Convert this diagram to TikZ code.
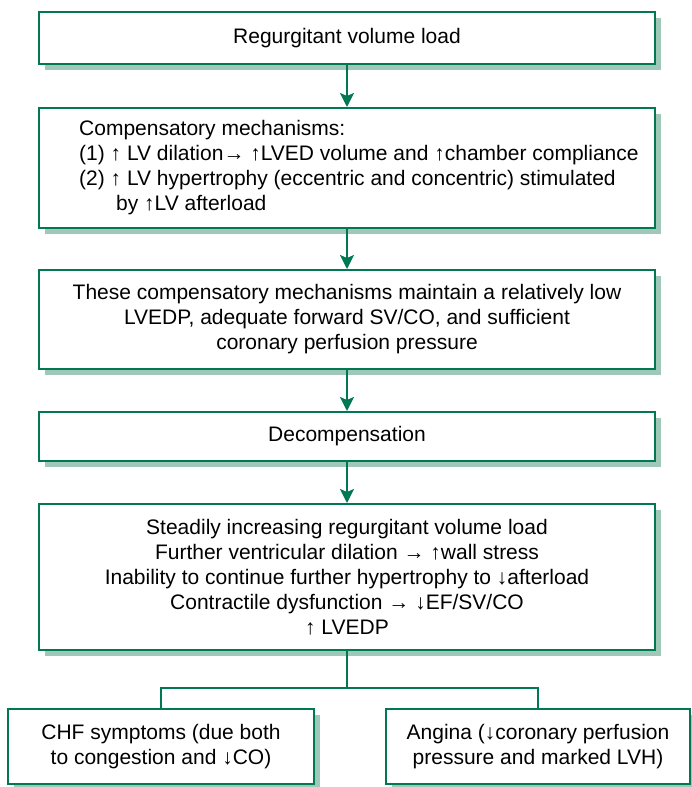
\documentclass[tikz,border=0pt]{standalone}
\usepackage{fontspec}
\setmainfont{Liberation Sans}
\usetikzlibrary{arrows.meta,shadows}
\definecolor{boxgreen}{RGB}{0,120,84}
\definecolor{shadegreen}{RGB}{160,200,184}

\begin{document}
\begin{tikzpicture}[x=1pt,y=-1pt,
  every node/.style={font=\fontsize{21}{25}\selectfont},
  box/.style={draw=boxgreen, line width=2pt, fill=white, minimum width=616pt,
    inner sep=0pt, align=center,
    drop shadow={shadow xshift=6pt, shadow yshift=-6pt, fill=shadegreen, opacity=1}},
  conn/.style={draw=boxgreen, line width=2pt},
  flow/.style={conn, -{Stealth[length=14pt,width=14pt,inset=3pt]}}]
  \useasboundingbox (0,0) rectangle (691,787);
  \def\cx{347}   % centre line of the column
  % main column
  \node[box, minimum height=52pt] (load) at (\cx,38) {Regurgitant volume load};
  \node[box, minimum height=120pt] (comp) at (\cx,168) {};
  \node[anchor=west, align=left, inner sep=0pt] (comptext) at ([xshift=41pt]comp.west)
    {Compensatory mechanisms:\\
     (1) ↑ LV dilation→ ↑LVED volume and ↑chamber compliance\\
     (2) ↑ LV hypertrophy (eccentric and concentric) stimulated\\
     \hspace*{37pt}by ↑LV afterload};
  \node[box, minimum height=99pt] (keep) at (\cx,319.5)
    {These compensatory mechanisms maintain a relatively low\\
     LVEDP, adequate forward SV/CO, and sufficient\\
     coronary perfusion pressure};
  \node[box, minimum height=49pt] (decomp) at (\cx,436.5) {Decompensation};
  \node[box, minimum height=146pt] (fail) at (\cx,577)
    {Steadily increasing regurgitant volume load\\
     Further ventricular dilation → ↑wall stress\\
     Inability to continue further hypertrophy to ↓afterload\\
     Contractile dysfunction → ↓EF/SV/CO\\
     ↑ LVEDP};
  % outcomes
  \node[box, minimum width=306pt, minimum height=75pt] (chf) at (161,746.5)
    {CHF symptoms (due both\\ to congestion and ↓CO)};
  \node[box, minimum width=304pt, minimum height=75pt] (angina) at (538,746.5)
    {Angina (↓coronary perfusion\\ pressure and marked LVH)};
  \coordinate (split) at (\cx,688);
  % connectors
  \draw[flow] (load) -- (comp);
  \draw[flow] (comp) -- (keep);
  \draw[flow] (keep) -- (decomp);
  \draw[flow] (decomp) -- (fail);
  \draw[conn] (fail) -- (split);
  \draw[conn] (chf.north) |- (split) -| (angina.north);
\end{tikzpicture}
\end{document}
